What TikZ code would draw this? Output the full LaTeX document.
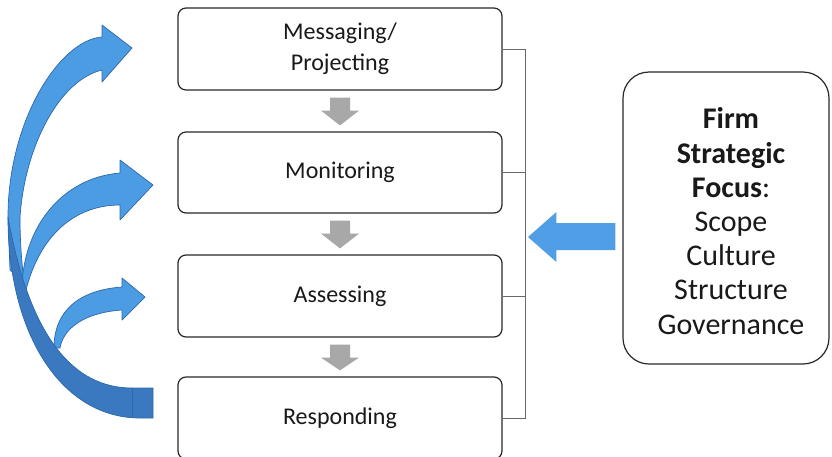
\documentclass[tikz,border=0pt]{standalone}
\usepackage{fontspec}
\setmainfont{Carlito}
\usetikzlibrary{calc}
\definecolor{lightblue}{RGB}{76,156,228}
\definecolor{edgeblue}{RGB}{44,104,172}
\definecolor{darkblue}{RGB}{58,120,192}
\definecolor{rightblue}{RGB}{80,158,230}
\definecolor{arrowgray}{RGB}{168,168,168}
\definecolor{boxline}{RGB}{40,40,40}
\definecolor{linegray}{RGB}{105,105,105}
\definecolor{textcol}{RGB}{25,25,25}
\begin{document}
\begin{tikzpicture}[x=1pt,y=-1pt,
  stage/.style={draw=boxline, line width=1.2pt, rounded corners=8pt, fill=white,
    minimum width=324pt, minimum height=82pt, align=center, inner sep=0pt,
    text=textcol, font=\fontsize{24}{31}\selectfont},
  focusbox/.style={draw=boxline, line width=1.2pt, rounded corners=26pt, fill=white,
    minimum width=206pt, minimum height=292pt, align=center, inner sep=0pt,
    text=textcol, font=\fontsize{30}{34.2}\selectfont},
  grayarrow/.style={fill=arrowgray},
  bracketline/.style={draw=linegray, line width=0.9pt},
  curvlight/.style={fill=lightblue, draw=edgeblue, line width=0.7pt, line join=round},
  curvdark/.style={fill=darkblue, draw=edgeblue, line width=0.7pt, line join=round},
  sidearrow/.style={fill=rightblue}
]
\useasboundingbox (0,0) rectangle (832,456);
\clip (0,0) rectangle (832,456);

% stage boxes
\node[stage] (msg) at (340,49) {Messaging/\\Projecting};
\node[stage, minimum height=81pt] (mon) at (340,172.5) {Monitoring};
\node[stage] (ass) at (340,296) {Assessing};
\node[stage] (res) at (340,418) {Responding};

% focus box
\node[focusbox] (focus) at (726,218) {};
\node[text=textcol, font=\fontsize{30}{34.2}\selectfont, align=center, inner sep=0pt] (focustext) at ($(focus.center)+(5,3)$)
  {\textbf{Firm}\\\textbf{Strategic}\\\textbf{Focus}:\\Scope\\Culture\\Structure\\Governance};

% gray down arrows between boxes
\foreach \a/\b in {msg/mon, mon/ass, ass/res}{
  \fill[grayarrow] ($(\a.south)+(-10,7)$) -- ($(\a.south)+(10,7)$) -- ($(\a.south)+(10,20)$)
    -- ($(\a.south)+(19,20)$) -- ($(\b.north)+(0,-6)$) -- ($(\a.south)+(-19,20)$)
    -- ($(\a.south)+(-10,20)$) -- cycle;
}

% bracket connecting the stages
\coordinate (btop) at (525,49);
\coordinate (bbot) at (525,419);
\draw[bracketline] (btop) -- (bbot);
\draw[bracketline] (msg.east) -- (msg.east -| btop);
\draw[bracketline] (mon.east) -- (mon.east -| btop);
\draw[bracketline] (ass.east) -- (ass.east -| btop);
\draw[bracketline] (res.east) -- (res.east -| btop);

% blue arrow from focus box to bracket
\coordinate (tip) at (528,237);
\fill[sidearrow] ($(focus.west)+(-7,5)$) -- ($(focus.west)+(-66,5)$) -- ($(focus.west)+(-66,-6)$)
  -- (tip) -- ($(focus.west)+(-66,44)$) -- ($(focus.west)+(-66,32)$) -- ($(focus.west)+(-7,32)$) -- cycle;

% curved feedback arrows
\filldraw[curvlight] (24,282) -- (10,270) -- (8,217) .. controls (8,120) and (60,40) .. (102,37)
  -- (102,25) -- (132,48) -- (102,82) -- (102,70) .. controls (60,80) and (25,145) .. (20,217)
  .. controls (20,245) and (22,265) .. (24,282) -- cycle;
\filldraw[curvlight] (22,290) .. controls (22,230) and (60,178) .. (120,173)
  -- (120,160) -- (153,185) -- (120,220) -- (120,205) .. controls (75,205) and (40,235) .. (26,290) -- cycle;
\filldraw[curvlight] (54,348) .. controls (54,310) and (80,290) .. (122,287)
  -- (122,278) -- (145,297) -- (122,320) -- (122,310) .. controls (90,312) and (64,325) .. (60,348) -- cycle;
\filldraw[curvdark] (8,217) .. controls (8,335) and (62,418) .. (140,418) -- (153,418) -- (153,388)
  -- (132,388) .. controls (75,388) and (30,340) .. (8,217) -- cycle;
\draw[edgeblue, line width=0.6pt] (132,388) -- (132,418);
\end{tikzpicture}
\end{document}
